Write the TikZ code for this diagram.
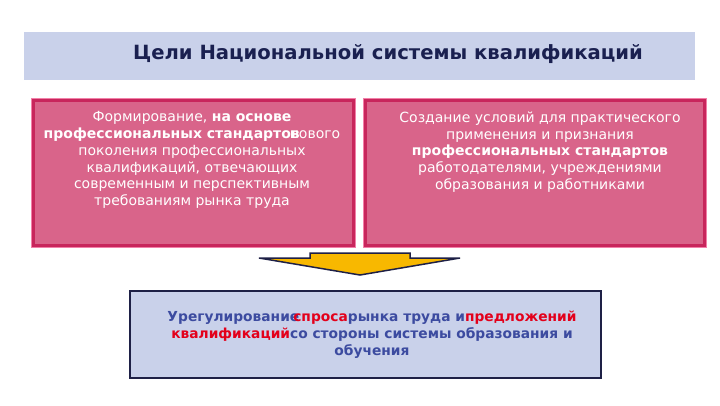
\documentclass[tikz,border=0pt]{standalone}
\usepackage{fontspec}
\setmainfont{DejaVu Sans}
\definecolor{band}{HTML}{C9D1EA}
\definecolor{titletxt}{HTML}{1A2050}
\definecolor{pinkfill}{HTML}{D9648A}
\definecolor{pinkedge}{HTML}{C8265C}
\definecolor{pinkglow}{HTML}{F27FA8}
\definecolor{navy}{HTML}{1E2046}
\definecolor{bluetxt}{HTML}{3C4BA0}
\definecolor{redtxt}{HTML}{E3001B}
\definecolor{gold}{HTML}{F8B800}
\tikzset{
  pinkbox/.style={draw=pinkedge, line width=2.8pt, fill=pinkfill, inner sep=0pt,
    preaction={draw=pinkglow, line width=5pt}},
  bodytxt/.style={text=white, align=center, inner sep=0pt,
    font=\fontsize{14}{16.7}\selectfont},
  lowbox/.style={draw=navy, line width=1.8pt, fill=band, inner sep=0pt},
}
\begin{document}
\begin{tikzpicture}[x=1pt,y=1pt]
\useasboundingbox[fill=white] (0,0) rectangle (720,-405);
% title band
\node[fill=band, inner sep=0pt, minimum width=671pt, minimum height=48pt, anchor=north west] (band) at (24,-32) {};
\node[text=titletxt, inner sep=0pt, font=\fontsize{19.6}{22}\selectfont\bfseries] (title) at (388,-54) {Цели Национальной системы квалификаций};
% pink boxes
\node[pinkbox, minimum width=320pt, minimum height=145pt, anchor=north west] (lbox) at (32,-99) {};
\node[pinkbox, minimum width=339pt, minimum height=145pt, anchor=north west] (rbox) at (364,-99) {};
\node[bodytxt, anchor=north] (ltxt) at (192,-111.5) {Формирование, \textbf{на основе}\\
\textbf{профессиональных стандартов}\kern-10pt нового\\
поколения профессиональных\\
квалификаций, отвечающих\\
современным и перспективным\\
требованиям рынка труда};
\node[bodytxt, anchor=north] (rtxt) at (540,-111.5) {Создание условий для практического\\
применения и признания\\
\textbf{профессиональных стандартов}\\
работодателями, учреждениями\\
образования и работниками};
% arrow
\draw[navy, line width=1.5pt, fill=gold, line join=miter]
  (259,-258) -- (310,-258) -- (310,-253) -- (410,-253) -- (410,-258) -- (460,-258) -- (360,-275) -- cycle;
% bottom box
\node[lowbox, minimum width=471pt, minimum height=87pt, anchor=north west] (bbox) at (129,-290) {};
\node[text=bluetxt, align=center, inner sep=0pt, font=\fontsize{13.8}{17}\selectfont\bfseries] (btxt) at (372,-335) {Урегулирование\kern-6pt\textcolor{redtxt}{спроса}рынка труда и\textcolor{redtxt}{предложений}\\
\textcolor{redtxt}{квалификаций}со стороны системы образования и\\
обучения};
\end{tikzpicture}
\end{document}
